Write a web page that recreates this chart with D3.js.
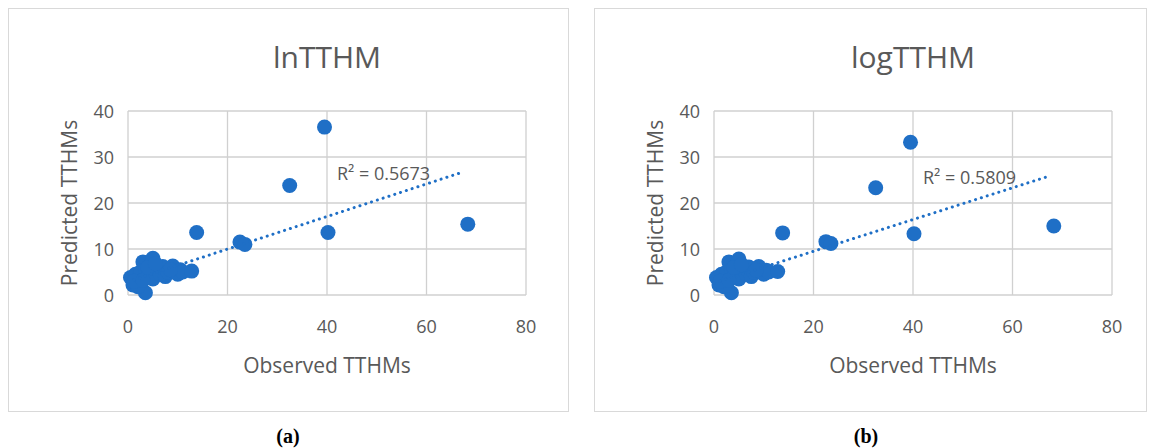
<!DOCTYPE html>
<html><head><meta charset="utf-8">
<script src="https://cdn.jsdelivr.net/npm/d3@7"></script>
<style>body{margin:0;background:#fff}</style>
</head><body><svg width="1152" height="448"></svg>
<script>
var clusterX = [0.5,1,1.5,2,2.5,3,3.5,3.5,4,4.5,5,5,6,6.5,7,7.5,8,9,9.5,10,10.5,11,2,1.2,3,4,5.5,8.5,12.8]
var clusterA = [3.8,2.2,4.5,3,5,7.2,0.5,5.5,4,6.5,8,3.5,5.5,4.5,6.2,4,5,6.3,5,4.5,5.5,5,1.8,3,3.2,6,6.8,5.5,5.2]
var clusterB = [3.8,2.2,4.5,3,5,7.2,0.5,5.5,4,6.5,7.8,3.5,5.4,4.5,6.1,4,5,6.2,5,4.5,5.4,5,1.8,3,3.2,6,6.6,5.4,5.1]
var outX = [39.5,32.5,40.2,68.3,13.8,22.5,23.5]
var outA = [36.5,23.8,13.6,15.4,13.6,11.5,11]
var outB = [33.2,23.3,13.3,15,13.5,11.6,11.2]
var panels = [
  {title:"lnTTHM", label:"(a)", r2:"R² = 0.5673", y:clusterA.concat(outA), trend:[2.9,0.354], x0:8},
  {title:"logTTHM", label:"(b)", r2:"R² = 0.5809", y:clusterB.concat(outB), trend:[2.6,0.345], x0:594}
]
var xs = clusterX.concat(outX)
var xTicks = [0,20,40,60,80], yTicks = [0,10,20,30,40]
var svg = d3.select("svg")
var font = "'Open Sans', Calibri, sans-serif"
panels.forEach(function(p){
  var g = svg.append("g").attr("transform","translate("+p.x0+",0)")
  g.append("rect").attr("x",0.5).attr("y",8.5).attr("width",p.x0==8?560:552).attr("height",403).attr("fill","#fff").attr("stroke","#d9d9d9")
  var x = d3.scaleLinear().domain([0,80]).range([120,518])
  var y = d3.scaleLinear().domain([0,40]).range([295,111])
  g.append("text").attr("x",(120+518)/2).attr("y",68).attr("text-anchor","middle").attr("font-family",font).attr("font-size",30).attr("fill","#595959").text(p.title)
  g.selectAll(".gy").data(yTicks).enter().append("line").attr("x1",120).attr("x2",518).attr("y1",y).attr("y2",y).attr("stroke","#d0d0d0").attr("stroke-width",1.3)
  g.selectAll(".gx").data(xTicks).enter().append("line").attr("y1",111).attr("y2",295).attr("x1",x).attr("x2",x).attr("stroke","#d0d0d0").attr("stroke-width",1.3)
  g.selectAll(".ty").data(yTicks).enter().append("text").attr("x",106).attr("y",function(d){return y(d)+7}).attr("text-anchor","end").attr("font-family",font).attr("font-size",18).attr("fill","#595959").text(d=>d)
  g.selectAll(".tx").data(xTicks).enter().append("text").attr("x",x).attr("y",333).attr("text-anchor","middle").attr("font-family",font).attr("font-size",18).attr("fill","#595959").text(d=>d)
  g.append("text").attr("x",(120+518)/2).attr("y",373).attr("text-anchor","middle").attr("font-family",font).attr("font-size",21).attr("fill","#595959").text("Observed TTHMs")
  g.append("text").attr("transform","translate(69,203) rotate(-90)").attr("text-anchor","middle").attr("font-family",font).attr("font-size",21).attr("fill","#595959").text("Predicted TTHMs")
  g.selectAll("circle").data(xs).enter().append("circle").attr("cx",d=>x(d)).attr("cy",(d,i)=>y(p.y[i])).attr("r",7.5).attr("fill","#1f6fc6")
  g.append("line").attr("x1",x(0)).attr("x2",x(67.5)).attr("y1",y(p.trend[0])).attr("y2",y(p.trend[0]+p.trend[1]*67.5))
    .attr("stroke","#1f6fc6").attr("stroke-width",3).attr("stroke-dasharray","0.1 6").attr("stroke-linecap","round")
  g.append("text").attr("x",x(42)).attr("y",y(p.trend[0]+p.trend[1]*62)-1).attr("font-family",font).attr("font-size",18).attr("fill","#595959").text(p.r2)
  g.append("text").attr("x",p.x0==8?280:272).attr("y",443).attr("text-anchor","middle").attr("font-family","'Liberation Serif', serif").attr("font-weight","bold").attr("font-size",20).attr("fill","#000").text(p.label)
})
</script></body></html>
